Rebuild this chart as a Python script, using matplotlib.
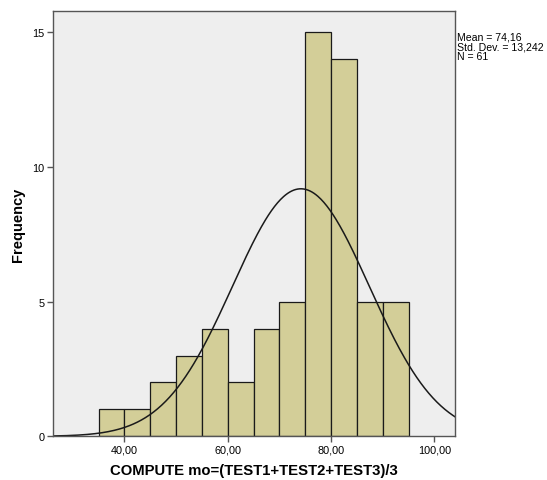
import numpy as np
import matplotlib.pyplot as plt
from matplotlib.ticker import FuncFormatter

plt.rcParams['font.family'] = ['Liberation Sans', 'DejaVu Sans']

# histogram bins (left edges) and counts
bin_edges = [35, 40, 45, 50, 55, 60, 65, 70, 75, 80, 85, 90, 95]
counts = [1, 1, 2, 3, 4, 2, 4, 5, 15, 14, 5, 5]
mean = 74.16
std = 13.242
n = 61
bin_width = 5

fig = plt.figure(figsize=(5.47, 4.81), dpi=100)
ax = fig.add_axes([0.0963, 0.0908, 0.7355, 0.8849])
ax.set_facecolor('#eeeeee')

ax.bar(bin_edges[:-1], counts, width=bin_width, align='edge',
       color='#d3ce98', edgecolor='#1a1a1a', linewidth=0.9)

# normal curve
x = np.linspace(26.1, 104.0, 400)
y = n * bin_width / (std * np.sqrt(2 * np.pi)) * np.exp(-0.5 * ((x - mean) / std) ** 2)
ax.plot(x, y, color='#1a1a1a', linewidth=1.1)

ax.set_xlim(26.1, 104.0)
ax.set_ylim(0, 15.8)
ax.set_xticks([40, 60, 80, 100])
ax.set_yticks([0, 5, 10, 15])
ax.xaxis.set_major_formatter(FuncFormatter(lambda v, p: '{:.2f}'.format(v).replace('.', ',')))
ax.yaxis.set_major_formatter(FuncFormatter(lambda v, p: '{:d}'.format(int(v))))
ax.tick_params(labelsize=7.8, length=4, width=1, color='#555555', pad=2)
for s in ax.spines.values():
    s.set_color('#555555')
    s.set_linewidth(1)

ax.set_xlabel('COMPUTE mo=(TEST1+TEST2+TEST3)/3', fontsize=10.7, fontweight='bold', labelpad=6)
ax.set_ylabel('Frequency', fontsize=10.5, fontweight='bold', labelpad=5)

fig.text(0.835, 0.932, 'Mean = 74,16\nStd. Dev. = 13,242\nN = 61',
         fontsize=7.6, va='top', ha='left', linespacing=0.95)

fig.savefig('out.png', dpi=100)
